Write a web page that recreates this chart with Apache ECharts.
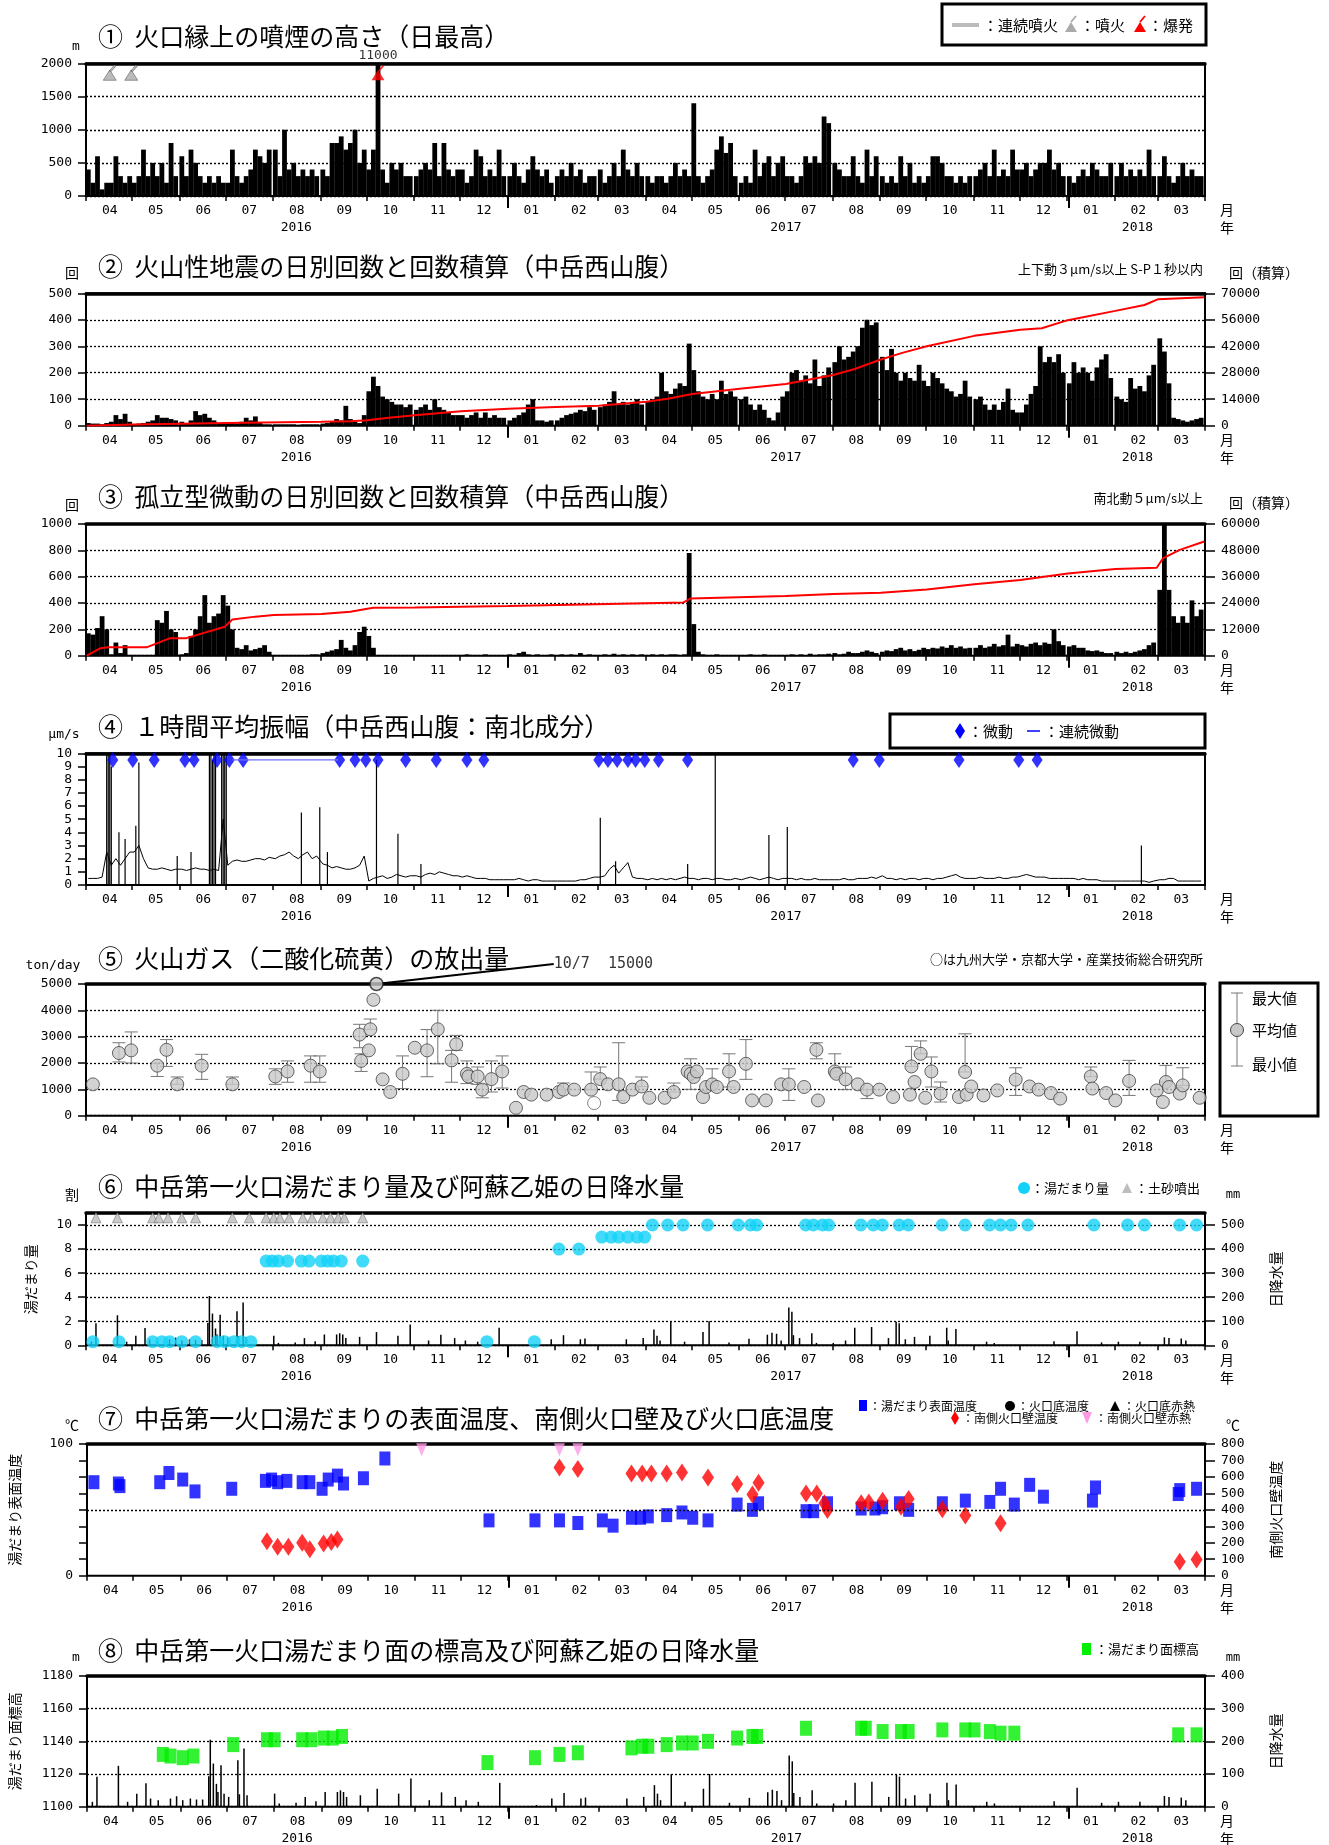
<!DOCTYPE html>
<html><head><meta charset="utf-8">
<script src="https://cdn.jsdelivr.net/npm/echarts@6/dist/echarts.min.js"></script>
<style>html,body{margin:0;padding:0;background:#fff}#c{width:1329px;height:1845px}</style>
</head><body><div id="c"></div>
<script>
// ================= DATA =================
// daily series are given as 3-day block estimates, one row per month (Apr 2016 .. Mar 2018)
const plumeHeight = [
 [400,200,600,100,200,200,600,300,200,300],[200,300,700,300,500,300,500,200,800,300],
 [600,300,700,500,300,200,300,200,300,200],[200,700,300,200,300,400,700,600,500,700],
 [700,300,1000,400,500,300,400,300,400,300],[400,300,800,800,900,700,800,1000,500,700],
 [400,700,11000,400,200,500,400,500,300,300],[300,400,500,400,800,300,800,400,300,400],
 [400,200,300,700,600,300,400,300,700,300],[300,500,300,200,400,600,400,300,400,200],
 [300,400,300,500,300,400,200,300,300],[400,200,300,500,300,700,400,300,500,300],
 [300,200,300,300,200,300,500,300,400,300],[1400,300,200,300,400,700,900,650,800,300],
 [200,300,200,700,300,500,600,300,500,600],[300,300,200,300,600,500,600,500,1200,1100],
 [500,400,300,300,600,300,200,700,300,600],[300,200,300,200,600,300,500,200,300,200],
 [300,600,600,500,300,300,200,300,200,300],[300,400,500,300,700,300,400,300,700,400],
 [400,500,300,400,500,500,700,400,500,300],[300,200,300,400,300,500,400,300,300,500],
 [300,500,300,400,300,400,300,700,300],[300,600,300,200,300,500,300,400,300,300]
];
const eruptionDays = ['2016-04-16','2016-04-30'];
const explosionDays = ['2016-10-08'];

const quakeDaily = [
 [10,8,8,5,10,15,40,25,45,15],[5,8,10,15,20,40,30,30,25,20],
 [15,10,20,55,40,45,30,20,10,10],[10,10,8,15,30,20,35,10,5,5],
 [5,5,5,5,5,3,5,5,5,5],[8,10,15,25,20,75,25,15,10,40],
 [130,185,150,110,100,90,80,80,70,80],[60,70,80,60,100,70,60,50,40,40],
 [40,30,40,50,30,50,30,40,30,30],[20,30,40,50,80,100,20,20,15,20],
 [20,30,40,45,50,60,55,70,60],[70,80,90,130,80,90,80,90,100,80],
 [90,100,110,200,130,120,140,160,150,310],[210,130,110,100,120,100,170,120,130,110],
 [100,110,80,60,80,60,30,20,50,110],[130,200,210,170,190,160,250,150,190,220],
 [240,300,250,260,280,300,370,400,380,390],[260,210,290,200,170,200,180,170,230,170],
 [150,200,180,160,140,130,110,120,170,110],[100,110,80,60,80,60,90,140,60,50],
 [50,80,120,150,300,240,260,240,270,200],[160,240,200,220,200,170,220,250,270,180],
 [110,100,90,180,140,150,130,190,230],[330,280,160,30,25,20,15,20,25,30]
];
const quakeCum = [
 ['2016-04-01',0],['2016-05-01',700],['2016-07-01',1400],['2016-09-01',2100],['2016-09-20',2400],
 ['2016-10-01',2900],['2016-10-15',4200],['2016-11-01',5500],['2016-12-01',7600],['2017-01-01',8900],
 ['2017-02-01',9900],['2017-03-01',10600],['2017-04-01',12700],['2017-04-15',14300],['2017-05-01',16800],
 ['2017-06-01',19500],['2017-07-01',22100],['2017-08-01',26800],['2017-08-15',30000],['2017-09-01',35000],
 ['2017-09-15',38500],['2017-10-01',42000],['2017-11-01',47500],['2017-12-01',50700],['2017-12-15',51500],
 ['2018-01-01',55800],['2018-02-01',60700],['2018-02-20',63800],['2018-03-01',66900],['2018-03-31',67900]
];

const tremorDaily = [
 [170,160,210,300,200,10,100,20,80,5],[0,0,0,0,0,270,250,340,200,180],
 [10,20,150,200,300,460,250,300,320,460],[380,200,60,50,80,40,50,60,80,30],
 [5,5,5,5,5,5,5,5,10,10],[20,30,40,50,120,60,40,80,180,220],
 [150,60,5,0,0,5,0,0,5,0],[0,5,0,5,0,0,5,0,0,5],
 [5,10,5,0,5,10,5,5,0,5],[10,5,20,30,10,5,10,5,5,10],
 [5,10,5,10,5,20,5,10,5],[5,10,5,15,5,10,5,10,5,10],
 [5,10,5,10,5,10,10,5,10,780],[240,30,10,5,5,10,5,5,5,5],
 [5,5,10,5,5,10,5,5,5,5],[5,10,5,10,5,15,5,10,10,15],
 [20,10,15,30,20,20,30,40,30,20],[30,40,35,50,60,40,50,35,45,60],
 [50,60,55,70,60,80,60,70,55,60],[60,80,60,70,90,70,80,160,70,90],
 [80,70,90,100,80,100,90,200,110,80],[70,80,60,60,40,35,40,30,20,20],
 [30,20,30,20,30,40,50,80,100],[500,1049,500,300,250,300,250,420,300,350]
];
const tremorCum = [
 ['2016-04-01',0],['2016-04-10',3400],['2016-04-15',3800],['2016-05-10',3800],['2016-05-25',7900],
 ['2016-06-05',8000],['2016-06-30',13200],['2016-07-05',16500],['2016-07-20',17800],['2016-08-01',18500],
 ['2016-09-01',19000],['2016-09-20',20000],['2016-10-01',21400],['2016-10-05',21800],['2016-11-01',22000],
 ['2016-12-01',22300],['2017-01-01',22600],['2017-04-25',24200],['2017-04-30',26100],['2017-07-01',27200],
 ['2017-08-01',28100],['2017-09-01',28700],['2017-10-01',30200],['2017-11-01',32500],['2017-12-01',34500],
 ['2018-01-01',37500],['2018-02-01',39500],['2018-02-28',40100],['2018-03-04',44300],['2018-03-15',48200],
 ['2018-03-31',52000]
];
const tremorPeak = ['2018-03-04', 1049];

const ampBase = [
 [0.5,0.5,0.5,0.6,2.5,1.5,2,1.5,2,2.5],[2.5,3,2,1.3,1.2,1.2,1.3,1.2,1.1,1.2],
 [1.2,1.1,1.2,1.3,1.2,1.2,1.1,1.2,1.1,5],[1.5,1.8,1.9,1.8,1.8,1.9,2.0,2.0,1.9,2.1],
 [2.0,2.2,2.3,2.5,2.2,2.0,2.3,2.5,2.0,2.2],[1.6,1.5,1.3,1.4,1.3,1.2,1.2,1.3,1.5,2.2],
 [0.3,0.5,0.6,0.7,0.5,0.6,0.8,0.7,0.6,0.7],[0.7,0.6,0.8,0.9,0.8,1.0,0.9,0.8,0.7,0.7],
 [0.6,0.7,0.6,0.5,0.5,0.5,0.4,0.4,0.4,0.4],[0.4,0.4,0.5,0.4,0.3,0.4,0.4,0.3,0.3,0.3],
 [0.3,0.3,0.3,0.3,0.3,0.4,0.4,0.5,0.6],[0.6,0.7,1.2,1.5,0.9,1.3,1.7,0.6,0.5,0.5],
 [0.4,0.5,0.4,0.5,0.4,0.5,0.4,0.5,0.6,0.5],[0.5,0.4,0.5,0.5,0.4,0.5,0.5,0.4,0.4,0.5],
 [0.4,0.5,0.6,0.5,0.4,0.5,0.6,0.5,0.4,0.5],[0.5,0.5,0.4,0.5,0.4,0.4,0.5,0.4,0.4,0.4],
 [0.4,0.4,0.5,0.4,0.4,0.5,0.5,0.5,0.6,0.5],[0.7,0.5,0.5,0.4,0.5,0.4,0.5,0.5,0.4,0.5],
 [0.5,0.4,0.5,0.5,0.6,0.7,0.8,0.6,0.5,0.5],[0.5,0.6,0.5,0.5,0.5,0.6,0.5,0.5,0.6,0.6],
 [0.7,0.8,0.7,0.6,0.6,0.6,0.5,0.5,0.5,0.5],[0.5,0.5,0.4,0.5,0.4,0.4,0.4,0.3,0.3,0.3],
 [0.3,0.3,0.3,0.3,0.3,0.3,0.3,0.2,0.3],[0.4,0.4,0.5,0.5,0.3,0.3,0.3,0.3,0.3,0.3]
];
const ampSpikes = [
 ['2016-04-14',10],['2016-04-15',10],['2016-04-16',10],['2016-04-17',9],['2016-04-22',4],['2016-04-26',3.5],
 ['2016-05-03',4.5],['2016-05-05',9.3],['2016-05-30',2.2],['2016-06-08',2.5],['2016-06-20',10],['2016-06-21',10],
 ['2016-06-22',9.5],['2016-06-23',10],['2016-06-24',10],['2016-06-28',10],['2016-06-29',10],['2016-06-30',10],
 ['2016-07-01',10],['2016-08-19',5.5],['2016-08-31',5.9],['2016-09-05',2.5],['2016-10-07',9.5],['2016-10-21',3.9],
 ['2016-11-05',1.6],['2017-03-02',5.1],['2017-03-12',1.8],['2017-04-28',1.6],['2017-05-16',10],['2017-06-20',3.8],
 ['2017-07-02',4.4],['2018-02-18',3.0]
];
const contTremor = [['2016-07-05',9.5],['2016-09-12',9.5]];
const tremorDays = ['2016-04-18','2016-05-01','2016-05-15','2016-06-04','2016-06-10','2016-06-25','2016-07-03',
 '2016-07-12','2016-09-13','2016-09-23','2016-09-30','2016-10-08','2016-10-26','2016-11-15','2016-12-05','2016-12-16',
 '2017-03-01','2017-03-07','2017-03-13','2017-03-20','2017-03-25','2017-03-31','2017-04-09','2017-04-28',
 '2017-08-14','2017-08-31','2017-10-22','2017-11-30','2017-12-12'];

// SO2 flux: [date, mean, min, max]
const so2 = [
 ['2016-04-05',1190],['2016-04-22',2380,2040,2770],['2016-04-30',2480,2000,3180],['2016-05-17',1900,1490,2000],
 ['2016-05-23',2500,1870,2890],['2016-05-30',1190,1190,1470],['2016-06-15',1900,1380,2330],['2016-07-05',1190,1190,1470],
 ['2016-08-02',1490,1190,1780],['2016-08-10',1680,1270,2080],['2016-08-25',1900,1270,2270],['2016-08-31',1680,1270,2270],
 ['2016-09-26',3080,2580,3470],['2016-09-27',2080,1680,2350],['2016-10-02',2480],['2016-10-03',3280,3280,3670],
 ['2016-10-05',4400],['2016-10-11',1380],['2016-10-16',900],['2016-10-24',1590,1030,2270],
 ['2016-11-01',2580],['2016-11-09',2480,1480,3270],['2016-11-16',3280,1970,4000],['2016-11-25',2100,1270,2480],
 ['2016-11-28',2710,2480,3050],['2016-12-05',1590,1220,2080],['2016-12-06',1490],['2016-12-12',1490,1190,1850],
 ['2016-12-15',990,680,1190],['2016-12-21',1390,900,2080],['2016-12-28',1680,1050,2270],['2017-01-06',300],
 ['2017-01-11',900],['2017-01-16',800],['2017-01-26',800],['2017-02-03',900],['2017-02-06',990,990,1240],
 ['2017-02-13',990],['2017-02-24',990,990,1660],['2017-03-02',1390,1390,1850],['2017-03-07',1190],
 ['2017-03-14',1190,580,2770],['2017-03-17',710],['2017-03-23',990],['2017-03-29',1110,1110,1470],
 ['2017-04-03',680],['2017-04-13',680],['2017-04-19',900,900,1240],['2017-04-28',1680],['2017-04-30',1590,1000,2160],
 ['2017-05-02',1470],['2017-05-04',1680],['2017-05-08',710],['2017-05-10',1090],['2017-05-14',1190,1190,1780],
 ['2017-05-17',1090],['2017-05-25',1680,1090,2350],['2017-05-28',1090],['2017-06-05',1970,1380,2890],
 ['2017-06-09',580],['2017-06-18',580],['2017-06-28',1190],['2017-07-03',1190,580,1780],['2017-07-13',1090],
 ['2017-07-21',2500,2160,2770],['2017-07-22',580],['2017-08-02',1680,1680,2350],['2017-08-03',1590],
 ['2017-08-09',1380,990,1850],['2017-08-17',1190],['2017-08-23',990,650,990],['2017-08-31',990],['2017-09-09',710],
 ['2017-09-20',800],['2017-09-21',1870,1870,2630],['2017-09-23',1280],['2017-09-27',2350,2350,2840],['2017-09-30',680],
 ['2017-10-04',1680,1090,2230],['2017-10-10',840,520,1280],['2017-10-22',710],['2017-10-26',1660,1660,3110],
 ['2017-10-27',800],['2017-10-30',1110],['2017-11-07',770],['2017-11-16',960],['2017-11-28',1370,770,1820],
 ['2017-12-07',1110],['2017-12-13',990],['2017-12-21',860],['2017-12-27',650],['2018-01-16',1490,1490,1850],
 ['2018-01-17',1030],['2018-01-26',860],['2018-02-01',580],['2018-02-10',1320,770,2100],['2018-02-28',960],
 ['2018-03-04',520],['2018-03-06',1280,1280,1910],['2018-03-08',1090],['2018-03-15',840],['2018-03-17',1150,1150,1820],
 ['2018-03-28',680]
];
const so2Peak = ['2016-10-07', 15000];
const so2Other = [['2017-02-26', 480]]; // open circle: other institutes

// daily precipitation at Aso-Otohime [date, mm]
const rainfall = [
 ['2016-04-04',15],['2016-04-07',92],['2016-04-21',125],['2016-04-27',15],['2016-05-03',40],['2016-05-09',72],
 ['2016-05-12',25],['2016-05-17',20],['2016-05-25',25],['2016-05-29',32],['2016-06-02',20],['2016-06-07',25],
 ['2016-06-11',22],['2016-06-15',22],['2016-06-19',93],['2016-06-20',205],['2016-06-22',132],['2016-06-24',70],
 ['2016-06-25',45],['2016-06-27',127],['2016-06-29',40],['2016-07-02',30],['2016-07-08',142],['2016-07-09',38],
 ['2016-07-12',178],['2016-07-14',35],['2016-08-01',40],['2016-08-04',10],['2016-08-15',12],['2016-08-21',30],
 ['2016-08-28',17],['2016-09-03',45],['2016-09-11',45],['2016-09-13',50],['2016-09-15',45],['2016-09-17',30],
 ['2016-09-26',35],['2016-10-07',55],['2016-10-21',40],['2016-10-29',86],['2016-11-10',20],['2016-11-18',44],
 ['2016-11-27',30],['2016-12-04',20],['2016-12-12',15],['2016-12-26',73],['2017-01-19',5],['2017-01-29',25],
 ['2017-02-06',42],['2017-02-17',25],['2017-02-20',28],['2017-03-19',25],['2017-03-30',30],['2017-04-06',66],
 ['2017-04-08',40],['2017-04-10',20],['2017-04-17',100],['2017-04-26',15],['2017-05-08',55],['2017-05-12',100],
 ['2017-05-25',12],['2017-06-07',27],['2017-06-19',44],['2017-06-22',52],['2017-06-25',48],['2017-06-28',20],
 ['2017-07-03',157],['2017-07-05',139],['2017-07-06',42],['2017-07-10',30],['2017-07-18',50],['2017-07-21',10],
 ['2017-08-01',10],['2017-08-09',20],['2017-08-15',73],['2017-08-26',76],['2017-09-06',30],['2017-09-11',98],
 ['2017-09-13',92],['2017-09-17',25],['2017-09-23',35],['2017-10-03',40],['2017-10-14',73],['2017-10-15',20],
 ['2017-10-20',68],['2017-11-09',15],['2017-11-14',10],['2017-12-23',17],['2018-01-07',58],['2018-01-23',12],
 ['2018-02-03',15],['2018-02-17',15],['2018-03-05',33],['2018-03-08',30],['2018-03-16',28],['2018-03-19',20]
];

// crater lake amount (割)
const poolAmount = [
 ['2016-04-05',0.3],['2016-04-22',0.3],['2016-05-14',0.3],['2016-05-20',0.3],['2016-05-25',0.3],['2016-06-02',0.3],
 ['2016-06-11',0.3],['2016-06-25',0.3],['2016-06-30',0.3],['2016-07-06',0.3],['2016-07-11',0.3],['2016-07-17',0.3],
 ['2016-07-27',7],['2016-07-31',7],['2016-08-04',7],['2016-08-10',7],['2016-08-19',7],['2016-08-24',7],['2016-09-01',7],
 ['2016-09-05',7],['2016-09-09',7],['2016-09-14',7],['2016-09-28',7],['2016-12-18',0.3],['2017-01-18',0.3],
 ['2017-02-03',8],['2017-02-16',8],['2017-03-03',9],['2017-03-09',9],['2017-03-14',9],['2017-03-20',9],['2017-03-26',9],
 ['2017-03-31',9],['2017-04-05',10],['2017-04-15',10],['2017-04-25',10],['2017-05-11',10],['2017-05-31',10],
 ['2017-06-08',10],['2017-06-12',10],['2017-07-14',10],['2017-07-19',10],['2017-07-25',10],['2017-07-29',10],
 ['2017-08-19',10],['2017-08-27',10],['2017-09-02',10],['2017-09-13',10],['2017-09-19',10],['2017-10-11',10],
 ['2017-10-26',10],['2017-11-11',10],['2017-11-18',10],['2017-11-25',10],['2017-12-06',10],['2018-01-18',10],
 ['2018-02-09',10],['2018-02-20',10],['2018-03-15',10],['2018-03-26',10]
];
const mudEjection = ['2016-04-07','2016-04-21','2016-05-14','2016-05-18','2016-05-24','2016-06-02','2016-06-11',
 '2016-07-05','2016-07-16','2016-07-27','2016-08-01','2016-08-05','2016-08-11','2016-08-20','2016-08-26','2016-09-02',
 '2016-09-07','2016-09-12','2016-09-16','2016-09-28'];

// temperatures
const lakeTemp = [
 ['2016-04-05',71],['2016-04-21',70],['2016-04-22',68],['2016-05-18',71],['2016-05-24',78],['2016-06-02',73],
 ['2016-06-10',64],['2016-07-04',66],['2016-07-26',72],['2016-07-30',73],['2016-08-03',71],['2016-08-09',72],
 ['2016-08-19',71],['2016-08-24',71],['2016-09-01',66],['2016-09-05',73],['2016-09-11',76],['2016-09-15',70],
 ['2016-09-28',74],['2016-10-12',89],['2016-12-19',42],['2017-01-18',42],['2017-02-03',42],['2017-02-15',40],
 ['2017-03-03',42],['2017-03-10',38],['2017-03-22',44],['2017-03-28',44],['2017-04-02',45],['2017-04-14',46],
 ['2017-04-24',48],['2017-05-01',44],['2017-05-11',42],['2017-05-30',54],['2017-06-09',50],['2017-06-13',55],
 ['2017-07-14',49],['2017-07-19',49],['2017-07-28',55],['2017-08-19',51],['2017-08-28',51],['2017-09-02',52],
 ['2017-09-13',55],['2017-09-19',50],['2017-10-11',55],['2017-10-26',57],['2017-11-11',56],['2017-11-18',66],
 ['2017-11-27',54],['2017-12-07',69],['2017-12-16',60],['2018-01-17',57],['2018-01-19',67],['2018-03-14',62],
 ['2018-03-15',65],['2018-03-26',66]
];
const wallTemp = [
 ['2016-07-27',210],['2016-08-03',176],['2016-08-10',176],['2016-08-19',200],['2016-08-24',160],['2016-09-02',196],
 ['2016-09-07',204],['2016-09-11',220],['2017-02-03',658],['2017-02-15',648],['2017-03-22',621],['2017-03-29',621],
 ['2017-04-04',621],['2017-04-14',621],['2017-04-24',627],['2017-05-11',597],['2017-05-30',557],['2017-06-09',494],
 ['2017-06-13',565],['2017-07-14',500],['2017-07-21',500],['2017-07-26',440],['2017-07-28',399],['2017-08-19',440],
 ['2017-08-24',445],['2017-09-02',455],['2017-09-14',419],['2017-09-19',466],['2017-10-11',403],['2017-10-26',366],
 ['2017-11-18',318],['2018-03-15',85],['2018-03-26',99]
];
const wallGlow = ['2016-11-05','2017-02-03','2017-02-15'];

// crater lake surface elevation (m)
const lakeLevel = [
 ['2016-05-20',1132],['2016-05-25',1131],['2016-06-02',1130],['2016-06-09',1131],['2016-07-05',1138],['2016-07-27',1141],
 ['2016-08-01',1141],['2016-08-19',1141],['2016-08-25',1141],['2016-09-02',1142],['2016-09-08',1142],['2016-09-14',1143],
 ['2016-12-18',1127],['2017-01-18',1130],['2017-02-03',1132],['2017-02-15',1133],['2017-03-22',1136],['2017-03-29',1137],
 ['2017-04-02',1137],['2017-04-14',1138],['2017-04-24',1139],['2017-05-01',1139],['2017-05-11',1140],['2017-05-30',1142],
 ['2017-06-09',1143],['2017-06-12',1143],['2017-07-14',1148],['2017-08-19',1148],['2017-08-22',1148],['2017-09-02',1146],
 ['2017-09-14',1146],['2017-09-19',1146],['2017-10-11',1147],['2017-10-26',1147],['2017-11-01',1147],['2017-11-11',1146],
 ['2017-11-18',1145],['2017-11-27',1145],['2018-03-14',1144],['2018-03-26',1144]
];

const titles = ['①  火口縁上の噴煙の高さ（日最高）','②  火山性地震の日別回数と回数積算（中岳西山腹）',
 '③  孤立型微動の日別回数と回数積算（中岳西山腹）','④  １時間平均振幅（中岳西山腹：南北成分）',
 '⑤  火山ガス（二酸化硫黄）の放出量','⑥  中岳第一火口湯だまり量及び阿蘇乙姫の日降水量',
 '⑦  中岳第一火口湯だまりの表面温度、南側火口壁及び火口底温度','⑧  中岳第一火口湯だまり面の標高及び阿蘇乙姫の日降水量'];
const yearLabelDays = {'2016-08-16':'2016','2017-07-01':'2017','2018-02-15':'2018'};

// ================= HELPERS =================
const D0 = Date.UTC(2016,3,1), NDAYS = 730;
function di(s){const p=s.split('-').map(Number);return Math.round((Date.UTC(p[0],p[1]-1,p[2])-D0)/864e5);}
const cats=[];for(let i=0;i<NDAYS;i++)cats.push(new Date(D0+i*864e5).toISOString().slice(0,10));
function mStart(k){const y=2016+Math.floor((3+k)/12),m=(3+k)%12;return Math.round((Date.UTC(y,m,1)-D0)/864e5);}
function blocks(rows){const o=[];rows.forEach((r,k)=>{const s=mStart(k);r.forEach((v,j)=>o.push([s+3*j+1,v]));});return o;}
function pts(arr){return arr.map(r=>[di(r[0]),r[1]]);}

const MONO="'DejaVu Sans Mono', monospace", JP="'Noto Sans CJK JP', sans-serif";
const tops=[63.5,293.3,524,753.3,984,1213,1444,1676];
const hts=[132.5,132.4,131.7,131.7,131.7,132.3,131.7,130.7];

const grid=tops.map((t,i)=>({left:86,top:t,width:1119,height:hts[i],show:true,borderColor:'#000',borderWidth:2}));
const xAxis=[];
tops.forEach((t,g)=>{
  xAxis.push({type:'category',gridIndex:g,data:cats,boundaryGap:true,position:'bottom',
    axisLine:{show:false},
    axisTick:{show:true,interval:(i,v)=>v.endsWith('-01'),length:5,lineStyle:{color:'#000',width:1.5}},
    axisLabel:{show:true,interval:(i,v)=>v.endsWith('-16'),formatter:v=>v.slice(5,7),margin:8,
      fontFamily:MONO,fontSize:13,color:'#000'},splitLine:{show:false}});
  xAxis.push({type:'category',gridIndex:g,data:cats,boundaryGap:false,position:'bottom',
    axisLine:{show:false},
    axisTick:{show:true,interval:(i,v)=>v==='2017-01-01'||v==='2018-01-01',length:12,lineStyle:{color:'#000',width:2}},
    axisLabel:{show:true,interval:(i,v)=>v in yearLabelDays,formatter:v=>yearLabelDays[v]||'',margin:25,
      fontFamily:MONO,fontSize:13,color:'#000'},splitLine:{show:false}});
  xAxis.push({type:'category',gridIndex:g,data:cats,position:'top',
    axisLine:{show:true,lineStyle:{color:'#000',width:3.5}},axisTick:{show:false},axisLabel:{show:false},splitLine:{show:false}});
});
const dotted={show:true,lineStyle:{type:[2,2],color:'#000',width:1.3}};
function Y(g,min,max,interval,opt){
  opt=opt||{};
  const right=opt.position==='right';
  return {type:'value',gridIndex:g,min,max,interval,position:right?'right':'left',
    axisLine:{show:false},
    axisTick:{show:true,length:right?10:8,lineStyle:{color:'#000',width:1.5}},
    axisLabel:{color:'#000',fontFamily:MONO,fontSize:13,margin:right?16:14,showMaxLabel:opt.showMax!==false,
      formatter:opt.formatter||(v=>String(v))},
    splitLine:opt.split?dotted:{show:false},
    name:opt.name||'',nameLocation:'middle',nameGap:right?64:opt.nameGap||50,nameRotate:90,
    nameTextStyle:{fontFamily:JP,fontSize:14,color:'#000'}};
}
const yAxis=[
  Y(0,0,2000,500,{split:true}),
  Y(1,0,500,100,{split:true}), Y(1,0,70000,14000,{position:'right'}),
  Y(2,0,1000,200,{split:true}), Y(2,0,60000,12000,{position:'right'}),
  Y(3,0,10,1,{}),
  Y(4,0,5000,1000,{split:true}),
  Y(5,0,11,2,{split:true,showMax:false,name:'湯だまり量',nameGap:48}), Y(5,0,550,100,{position:'right',showMax:false,name:'日降水量'}),
  Y(6,0,100,12.5,{formatter:v=>(v===0||v===100)?String(v):'',name:'湯だまり表面温度',nameGap:65}),
  Y(6,0,800,100,{position:'right',name:'南側火口壁温度'}),
  Y(7,1100,1180,20,{split:true,name:'湯だまり面標高',nameGap:65}), Y(7,0,400,100,{position:'right',name:'日降水量'})
];
const X=g=>3*g;
const volcano='path://M0,16L6.5,5L13,16Z M6,6L11,0L12.5,1.2L7.5,7Z';

// 3-day block columns drawn through the axes (custom series so they can span 3 day-bands)
function blockBar(xi,yi,rows){
  return {type:'custom',xAxisIndex:xi,yAxisIndex:yi,data:blocks(rows),
    renderItem:(p,api)=>{
      const x=api.value(0),v=api.value(1);
      const a=api.coord([x,0]),b=api.coord([x,v]);
      const band=api.size([1,0])[0];
      const w=3*band+0.2;
      const cs=p.coordSys;
      const shape=echarts.graphic.clipRectByRect({x:a[0]-w/2,y:b[1],width:w,height:a[1]-b[1]},
        {x:cs.x,y:cs.y,width:cs.width,height:cs.height});
      return shape?{type:'rect',shape,style:{fill:'#000'}}:null;
    }};
}

const series=[
  // P1
  blockBar(X(0),0,plumeHeight),
  {type:'scatter',xAxisIndex:X(0),yAxisIndex:0,data:eruptionDays.map(d=>[di(d),1860]),symbol:volcano,symbolSize:[13,15],
    itemStyle:{color:'#aaa',borderColor:'#666',borderWidth:0.8}},
  {type:'scatter',xAxisIndex:X(0),yAxisIndex:0,data:explosionDays.map(d=>[di(d),1860]),symbol:volcano,symbolSize:[13,15],
    itemStyle:{color:'#ff0000'},label:{show:true,position:'top',distance:3,formatter:'11000',fontFamily:MONO,fontSize:13,color:'#000'}},
  // P2
  blockBar(X(1),1,quakeDaily),
  {type:'line',xAxisIndex:X(1),yAxisIndex:2,data:pts(quakeCum),showSymbol:false,lineStyle:{color:'#ff0000',width:2},z:5},
  // P3
  blockBar(X(2),3,tremorDaily),
  {type:'line',xAxisIndex:X(2),yAxisIndex:4,data:pts(tremorCum),showSymbol:false,lineStyle:{color:'#ff0000',width:2},z:5},
  {type:'scatter',xAxisIndex:X(2),yAxisIndex:3,data:[[di(tremorPeak[0]),1000]],symbolSize:1,itemStyle:{opacity:0},clip:false,
    label:{show:true,position:'top',distance:2,formatter:String(tremorPeak[1]),fontFamily:MONO,fontSize:13,color:'#000'}},
  // P4
  {type:'bar',xAxisIndex:X(3),yAxisIndex:5,data:pts(ampSpikes),barWidth:1.2,itemStyle:{color:'#000'}},
  {type:'line',xAxisIndex:X(3),yAxisIndex:5,data:blocks(ampBase),showSymbol:false,lineStyle:{color:'#000',width:1}},
  {type:'line',xAxisIndex:X(3),yAxisIndex:5,data:pts(contTremor),showSymbol:false,lineStyle:{color:'#6f6fff',width:1.2}},
  {type:'scatter',xAxisIndex:X(3),yAxisIndex:5,data:tremorDays.map(d=>[di(d),9.5]),symbol:'diamond',symbolSize:[11,16],
    itemStyle:{color:'#0000ff'}},
  // P5
  {type:'custom',xAxisIndex:X(4),yAxisIndex:6,z:1,
    data:so2.filter(r=>r.length>2&&r[3]>r[2]).map(r=>[di(r[0]),r[2],r[3]]),
    renderItem:(p,api)=>{const x=api.value(0),a=api.coord([x,api.value(1)]),b=api.coord([x,api.value(2)]);const w=6.5;
      const st={stroke:'#777',lineWidth:1};
      return {type:'group',children:[
        {type:'line',shape:{x1:a[0],y1:a[1],x2:b[0],y2:b[1]},style:st},
        {type:'line',shape:{x1:a[0]-w,y1:a[1],x2:a[0]+w,y2:a[1]},style:st},
        {type:'line',shape:{x1:b[0]-w,y1:b[1],x2:b[0]+w,y2:b[1]},style:st}]};}},
  {type:'scatter',xAxisIndex:X(4),yAxisIndex:6,z:3,data:so2.map(r=>[di(r[0]),r[1]]),symbolSize:13,
    itemStyle:{color:'#c8c8c8',borderColor:'#444',borderWidth:1}},
  {type:'scatter',xAxisIndex:X(4),yAxisIndex:6,z:3,clip:false,data:[[di(so2Peak[0]),Math.min(so2Peak[1],5000)]],symbolSize:13,
    itemStyle:{color:'#c8c8c8',borderColor:'#222',borderWidth:1.5},
    label:{show:true,position:'right',formatter:'10/7  '+so2Peak[1],fontFamily:MONO,fontSize:15,color:'#000'},
    labelLayout:{dx:165,dy:-20},labelLine:{show:true,lineStyle:{color:'#000',width:2}}},
  {type:'scatter',xAxisIndex:X(4),yAxisIndex:6,z:3,data:pts(so2Other),symbolSize:13,
    itemStyle:{color:'#fff',borderColor:'#666',borderWidth:1}},
  // P6
  {type:'bar',xAxisIndex:X(5),yAxisIndex:8,data:pts(rainfall),barWidth:1.5,itemStyle:{color:'#000'}},
  {type:'scatter',xAxisIndex:X(5),yAxisIndex:7,data:pts(poolAmount),symbolSize:13,itemStyle:{color:'#12d2f7'}},
  {type:'scatter',xAxisIndex:X(5),yAxisIndex:7,data:mudEjection.map(d=>[di(d),10.6]),symbol:'triangle',symbolSize:[10,10],
    itemStyle:{color:'#bdbdbd',borderColor:'#777',borderWidth:0.8}},
  // P7
  {type:'scatter',xAxisIndex:X(6),yAxisIndex:9,data:pts(lakeTemp),symbol:'rect',symbolSize:[11,14],itemStyle:{color:'#0000ff'},
    markLine:{silent:true,symbol:'none',label:{show:false},data:[{yAxis:50}],lineStyle:{type:[2,2],color:'#000',width:1.3}}},
  {type:'scatter',xAxisIndex:X(6),yAxisIndex:10,data:pts(wallTemp),symbol:'diamond',symbolSize:[12,18],itemStyle:{color:'#ff0000'}},
  {type:'scatter',xAxisIndex:X(6),yAxisIndex:10,data:wallGlow.map(d=>[di(d),765]),symbol:'path://M0,0L10,0L5,12Z',
    symbolSize:[11,13],itemStyle:{color:'#ff99e6'}},
  // P8
  {type:'bar',xAxisIndex:X(7),yAxisIndex:12,data:pts(rainfall),barWidth:1.5,itemStyle:{color:'#000'}},
  {type:'scatter',xAxisIndex:X(7),yAxisIndex:11,data:pts(lakeLevel),symbol:'rect',symbolSize:[12,15],itemStyle:{color:'#00ee00'}}
];

// ================= DECORATION (texts, legend boxes) =================
function T(x,y,text,o){o=o||{};return {type:'text',x,y,z:100,style:{text,fill:'#000',
  font:(o.size||14)+'px '+(o.font||JP),textAlign:o.align||'left',textVerticalAlign:'middle',align:o.align||'left',verticalAlign:'middle'}};}
function R(x,y,w,h){return {type:'rect',z:90,shape:{x,y,width:w,height:h},style:{fill:'#fff',stroke:'#000',lineWidth:3}};}
function L(x1,y1,x2,y2,c,w){return {type:'line',z:100,shape:{x1,y1,x2,y2},style:{stroke:c,lineWidth:w}};}
function P(points,c){return {type:'polygon',z:100,shape:{points},style:{fill:c}};}
function volcIcon(cx,cy,c){return [P([[cx-6,cy+6],[cx,cy-4],[cx+6,cy+6]],c),L(cx,cy-4,cx+5,cy-10,c,1.8)];}
const G=[];
tops.forEach((t,i)=>{const b=t+hts[i];G.push(T(1220,b+14,'月',{size:14}),T(1220,b+32,'年',{size:14}));});
// P1
G.push(R(942,4,264,41),L(952,25,979,25,'#bbb',4),T(983,25,'：連続噴火',{size:15}),...volcIcon(1071,26,'#aaa'),
  T(1080,25,'：噴火',{size:15}),...volcIcon(1140,26,'#ff0000'),T(1148,25,'：爆発',{size:15}),T(76,47,'m',{size:13,font:MONO,align:'center'}));
// P2
G.push(T(1203,269,'上下動３μm/s以上 S-P１秒以内',{size:13,align:'right'}),T(1229,273,'回（積算）',{size:14}),T(72,273,'回',{size:14,align:'center'}));
// P3
G.push(T(1203,498,'南北動５μm/s以上',{size:13,align:'right'}),T(1229,503,'回（積算）',{size:14}),T(72,505,'回',{size:14,align:'center'}));
// P4
G.push(R(890,714,315,34),P([[960,723],[965,731],[960,739],[955,731]],'#0000ff'),T(968,731,'：微動',{size:15}),
  L(1027,731,1040,731,'#0000ff',1.5),T(1044,731,'：連続微動',{size:15}),T(64,735,'μm/s',{size:13,font:MONO,align:'center'}));
// P5
G.push(T(53,966,'ton/day',{size:13,font:MONO,align:'center'}),T(1203,959,'○は九州大学・京都大学・産業技術総合研究所',{size:13,align:'right'}),
  R(1220,983,98,133),L(1237,993,1237,1066,'#777',1),L(1231,993,1243,993,'#777',1),L(1231,1066,1243,1066,'#777',1),
  {type:'circle',z:100,shape:{cx:1237,cy:1030,r:6.5},style:{fill:'#c8c8c8',stroke:'#444',lineWidth:1}},
  T(1252,998,'最大値',{size:15}),T(1252,1030,'平均値',{size:15}),T(1252,1064,'最小値',{size:15}));
// P6
G.push(T(72,1195,'割',{size:14,align:'center'}),T(1233,1195,'mm',{size:12,font:MONO,align:'center'}),
  {type:'circle',z:100,shape:{cx:1024,cy:1188,r:6},style:{fill:'#12d2f7'}},T(1031,1188,'：湯だまり量',{size:13}),
  P([[1122,1193],[1127,1183],[1132,1193]],'#bdbdbd'),T(1135,1188,'：土砂噴出',{size:13}));
// P7
G.push(T(72,1425,'℃',{size:14,align:'center'}),T(1233,1425,'℃',{size:14,align:'center'}),
  {type:'rect',z:100,shape:{x:859,y:1400,width:8,height:11},style:{fill:'#0000ff'}},T(869,1406,'：湯だまり表面温度',{size:12}),
  {type:'circle',z:100,shape:{cx:1010,cy:1406,r:5},style:{fill:'#000'}},T(1017,1406,'：火口底温度',{size:12}),
  P([[1110,1411],[1115,1401],[1120,1411]],'#000'),T(1123,1406,'：火口底赤熱',{size:12}),
  P([[955,1411],[959,1418],[955,1425],[951,1418]],'#ff0000'),T(962,1418,'：南側火口壁温度',{size:12}),
  P([[1082,1412],[1092,1412],[1087,1424]],'#ff99e6'),T(1095,1418,'：南側火口壁赤熱',{size:12}));
// P8
G.push(T(76,1658,'m',{size:13,font:MONO,align:'center'}),T(1233,1658,'mm',{size:12,font:MONO,align:'center'}),
  {type:'rect',z:100,shape:{x:1082,y:1643,width:9,height:12},style:{fill:'#00ee00'}},T(1095,1649,'：湯だまり面標高',{size:13}));

const titleCY=[35,265,495,725,957,1185,1417,1649];
const title=titles.map((t,i)=>({text:t,left:93,top:titleCY[i]-16,textStyle:{fontFamily:JP,fontSize:25,fontWeight:'normal',color:'#000'}}));

const chart=echarts.init(document.getElementById('c'),null,{renderer:'canvas'});
chart.setOption({animation:false,backgroundColor:'#fff',title,grid,xAxis,yAxis,series,graphic:{elements:G}});
</script></body></html>
